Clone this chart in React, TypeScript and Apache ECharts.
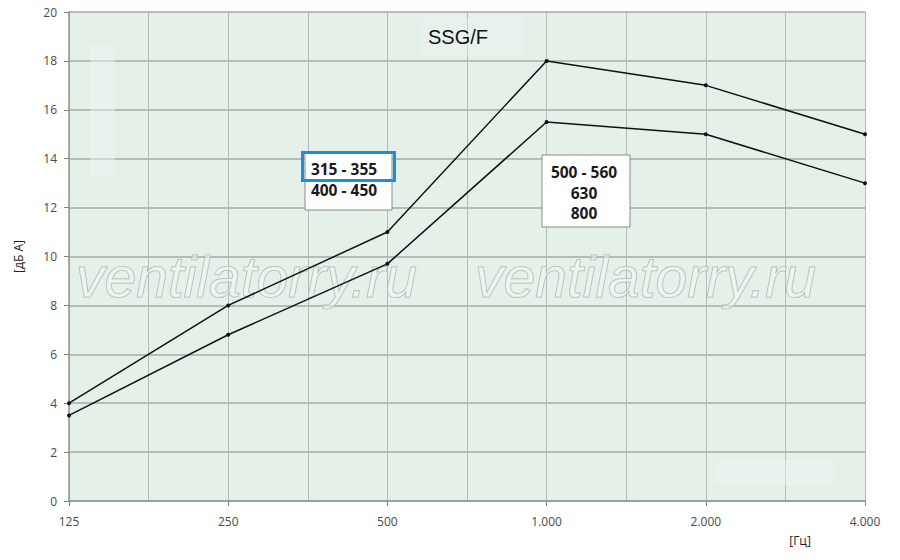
import React, { useEffect, useRef } from "react";
import * as echarts from "echarts";

const categories = ["125", "250", "500", "1.000", "2.000", "4.000"];
const upperSeries = [4, 8, 11, 18, 17, 15];
const lowerSeries = [3.5, 6.8, 9.7, 15.5, 15.0, 13.0];
const yTicks = { min: 0, max: 20, interval: 2 };
const boxLeftLines = ["315 - 355", "400 - 450"];
const boxRightLines = ["500 - 560", "630", "800"];
const watermark = "ventilatorry.ru";

export default function App() {
  const ref = useRef<HTMLDivElement>(null);
  useEffect(() => {
    if (!ref.current) return;
    const chart = echarts.init(ref.current, null, { renderer: "svg" });
    const toPairs = (arr: number[]) => arr.map((v, i) => [i, v]);
    const boxFont = "bold 15.5px 'Open Sans', 'DejaVu Sans', sans-serif";
    const wmStyle = {
      fontSize: 57,
      fontStyle: "italic",
      fontFamily: "'Liberation Sans', Arial, sans-serif",
      fill: "rgba(242,247,244,0.5)",
      stroke: "#aeb3b0",
      lineWidth: 1,
    };
    chart.setOption({
      animation: false,
      backgroundColor: "#ffffff",
      grid: {
        left: 69,
        right: 35,
        top: 12,
        bottom: 59,
        show: true,
        backgroundColor: "#e4f0e8",
        borderWidth: 0,
      },
      xAxis: [
        {
          type: "value",
          min: 0,
          max: categories.length - 1,
          interval: 1,
          axisLine: { show: true, lineStyle: { color: "#8f9891", width: 1.5 } },
          axisTick: { show: true, length: 5, lineStyle: { color: "#7d857f" } },
          axisLabel: {
            color: "#4a4a4a",
            fontSize: 12,
            fontFamily: "'Open Sans', 'DejaVu Sans', sans-serif",
            margin: 14,
            formatter: (v: number) => categories[Math.round(v)] ?? "",
          },
          splitLine: { show: false },
        },
        {
          type: "value",
          min: 0,
          max: categories.length - 1,
          interval: 0.5,
          position: "bottom",
          axisLine: { show: false },
          axisTick: { show: false },
          axisLabel: { show: false },
          splitLine: { show: true, lineStyle: { color: "#b3bdb6", width: 1 } },
        },
      ],
      yAxis: {
        type: "value",
        min: yTicks.min,
        max: yTicks.max,
        interval: yTicks.interval,
        name: "[дБ А]",
        nameLocation: "middle",
        nameGap: 45,
        nameRotate: 90,
        nameTextStyle: {
          color: "#222",
          fontSize: 12,
          fontFamily: "'Open Sans', 'DejaVu Sans', sans-serif",
        },
        axisLine: { show: true, lineStyle: { color: "#8f9891", width: 1.5 } },
        axisTick: { show: true, length: 5, lineStyle: { color: "#7d857f" } },
        axisLabel: {
          color: "#4a4a4a",
          fontSize: 12,
          fontFamily: "'Open Sans', 'DejaVu Sans', sans-serif",
          margin: 12,
        },
        splitLine: { show: true, lineStyle: { color: "#a3ada6", width: 1.5 } },
      },
      series: [
        {
          type: "line",
          data: toPairs(upperSeries),
          symbol: "circle",
          symbolSize: 4,
          lineStyle: { color: "#111", width: 1.5 },
          itemStyle: { color: "#111" },
          z: 5,
        },
        {
          type: "line",
          data: toPairs(lowerSeries),
          symbol: "circle",
          symbolSize: 4,
          lineStyle: { color: "#111", width: 1.5 },
          itemStyle: { color: "#111" },
          z: 5,
        },
      ],
      graphic: [
        { type: "rect", shape: { x: 90, y: 45, width: 25, height: 132 }, style: { fill: "rgba(240,246,243,0.45)" }, z: 1 },
        { type: "rect", shape: { x: 715, y: 460, width: 120, height: 25, r: 8 }, style: { fill: "rgba(240,246,243,0.45)" }, z: 1 },
        { type: "rect", shape: { x: 418, y: 18, width: 107, height: 38 }, style: { fill: "rgba(240,246,243,0.35)" }, z: 1 },
        {
          type: "text",
          x: 458,
          y: 37,
          style: {
            text: "SSG/F",
            font: "20px 'Liberation Sans', Arial, sans-serif",
            fill: "#111",
            textAlign: "center",
            textVerticalAlign: "middle",
          },
          z: 10,
        },
        { type: "text", x: 76, y: 305, style: { ...wmStyle, text: watermark, textVerticalAlign: "bottom" }, z: 3 },
        { type: "text", x: 475, y: 305, style: { ...wmStyle, text: watermark, textVerticalAlign: "bottom" }, z: 3 },
        {
          type: "rect",
          shape: { x: 305, y: 153, width: 87, height: 57 },
          style: { fill: "#ffffff", stroke: "#8a8a8a", lineWidth: 1 },
          z: 20,
        },
        ...boxLeftLines.map((t, i) => ({
          type: "text",
          x: 344,
          y: 169 + i * 21,
          style: { text: t, font: boxFont, fill: "#1a1a1a", textAlign: "center", textVerticalAlign: "middle" },
          z: 21,
        })),
        {
          type: "rect",
          shape: { x: 302.5, y: 152.5, width: 92, height: 28 },
          style: { fill: "none", stroke: "#1a8fe0", lineWidth: 3 },
          z: 22,
        },
        {
          type: "rect",
          shape: { x: 542, y: 155, width: 88, height: 72 },
          style: { fill: "#ffffff", stroke: "#8a8a8a", lineWidth: 1 },
          z: 20,
        },
        ...boxRightLines.map((t, i) => ({
          type: "text",
          x: 584,
          y: 172 + i * 20.5,
          style: { text: t, font: boxFont, fill: "#1a1a1a", textAlign: "center", textVerticalAlign: "middle" },
          z: 21,
        })),
        {
          type: "text",
          x: 800,
          y: 540,
          style: {
            text: "[Гц]",
            font: "12px 'Open Sans', 'DejaVu Sans', sans-serif",
            fill: "#222",
            textAlign: "center",
            textVerticalAlign: "middle",
          },
        },
      ],
    });
    return () => chart.dispose();
  }, []);
  return <div ref={ref} style={{ width: 900, height: 560, position: "absolute", left: 0, top: 0 }} />;
}
